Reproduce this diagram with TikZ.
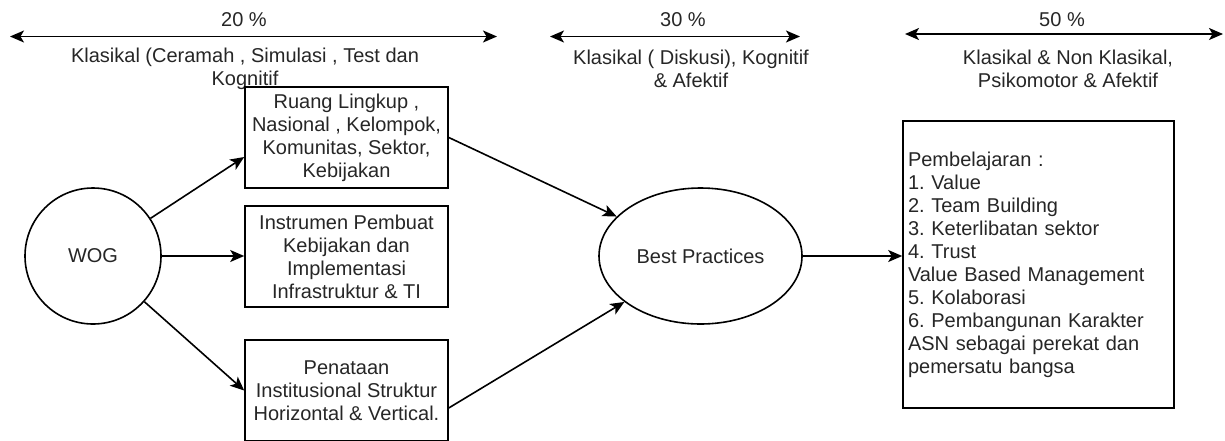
\documentclass[tikz,border=0pt]{standalone}
\usepackage{fontspec}
\setmainfont{Liberation Sans}
\usetikzlibrary{shapes.geometric,arrows.meta,calc}
\frenchspacing
\begin{document}
\begin{tikzpicture}[x=1pt,y=-1pt,
  every node/.style={font=\fontsize{20}{23}\selectfont, inner sep=0pt, text=black!85},
  conn/.style={line width=1.6pt, -{Stealth[length=14pt,width=12pt,inset=3.5pt]}},
  span/.style={line width=1.6pt, {Stealth[length=14pt,width=12pt,inset=3.5pt]}-{Stealth[length=14pt,width=12pt,inset=3.5pt]}},
  boxnode/.style={draw=black, line width=1.6pt, minimum width=203pt, minimum height=101pt, align=center},
  lbl/.style={align=center}]
\useasboundingbox (0,0) rectangle (1225,440);
\clip (0,0) rectangle (1225,440);

% top spans
\coordinate (a1l) at (10,36.5);
\coordinate (a1r) at (497,36.5);
\coordinate (a2l) at (550,36.5);
\coordinate (a2r) at (800,36.5);
\coordinate (a3l) at (905,34);
\coordinate (a3r) at (1223,34);
\draw[span] (a1l) -- (a1r);
\draw[span] (a2l) -- (a2r);
\draw[span] (a3l) -- (a3r);
\node (p1) at (244,20) {20 \%};
\node (p2) at (683,20) {30 \%};
\node (p3) at (1062,20) {50 \%};
\node[lbl] (t1) at (245,68.5) {Klasikal (Ceramah , Simulasi , Test dan\\Kognitif};
\node[lbl] (t2) at (691,68.5) {Klasikal ( Diskusi), Kognitif\\\& Afektif};
\node[lbl] (t3) at (1068,68.5) {Klasikal \& Non Klasikal,\\Psikomotor \& Afektif};

% main nodes
\node[draw=black, circle, line width=1.6pt, minimum size=136pt] (wog) at (93,256) {WOG};
\node[boxnode] (b1) at (346.5,137.5) {Ruang Lingkup ,\\Nasional , Kelompok,\\Komunitas, Sektor,\\Kebijakan};
\node[boxnode] (b2) at (346.5,256.5) {Instrumen Pembuat\\Kebijakan dan\\Implementasi\\Infrastruktur \& TI};
\node[boxnode] (b3) at (346.5,390.5) {Penataan\\Institusional Struktur\\Horizontal \& Vertical.};
\node[draw=black, ellipse, line width=1.6pt, minimum width=203pt, minimum height=136pt] (bp) at (700.5,256) {Best Practices};
\node[draw=black, line width=1.6pt, text width=261pt, inner xsep=5pt, minimum height=287pt, align=left] (b4) at (1038.5,264.5)
  {Pembelajaran :\\1. Value\\2. Team Building\\3. Keterlibatan sektor\\4. Trust\\Value Based Management\\5. Kolaborasi\\6. Pembangunan Karakter\\ASN sebagai perekat dan\\pemersatu bangsa};

% connectors
\draw[conn] (wog) -- ($(b1.south west)!0.31!(b1.north west)$);
\draw[conn] (wog.east) -- (wog.east -| b2.west);
\draw[conn] (wog) -- (b3.west);
\draw[conn] (b1.east) -- (bp);
\draw[conn] ($(b3.north east)!0.67!(b3.south east)$) -- (bp);
\draw[conn] (bp.east) -- (bp.east -| b4.west);
\end{tikzpicture}
\end{document}
